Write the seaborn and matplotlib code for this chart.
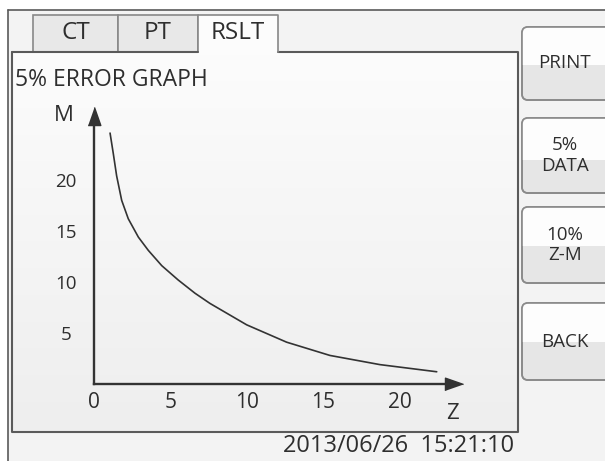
import numpy as np
import matplotlib
matplotlib.use("Agg")
import matplotlib.pyplot as plt
import seaborn as sns
from matplotlib.patches import Rectangle, FancyBboxPatch

# data
z_vals = [1.05, 1.26, 1.48, 1.81, 2.24, 2.9, 3.55, 4.43, 5.5, 6.6, 7.58, 9.98, 12.59, 15.42, 18.69, 22.4]
m_vals = [24.6, 22.6, 20.4, 18.0, 16.2, 14.4, 13.1, 11.6, 10.2, 8.9, 7.9, 5.8, 4.1, 2.8, 1.9, 1.2]
x_ticks = [0, 5, 10, 15, 20]
y_ticks = [5, 10, 15, 20]
tabs = ["CT", "PT", "RSLT"]
buttons = ["PRINT", "5%\nDATA", "10%\nZ-M", "BACK"]
title = "5% ERROR GRAPH"
stamp = "2013/06/26  15:21:10"

sns.set_style("white")
plt.rcParams["font.family"] = ["Open Sans", "DejaVu Sans"]

W, H = 605, 461
fig = plt.figure(figsize=(W / 100, H / 100), dpi=100, facecolor="#f3f3f3")
txt = "#2e2e2e"
edge = "#5a5a5a"

# background layer in pixel coords
bg = fig.add_axes([0, 0, 1, 1])
bg.add_patch(Rectangle((0, 0), W, 10, fc="white", ec="none"))
bg.add_patch(Rectangle((0, 0), 8, H, fc="white", ec="none"))
# panel with soft gradient
grad = np.linspace(0, 1, 100).reshape(-1, 1)
cm = matplotlib.colors.LinearSegmentedColormap.from_list("g", ["#fcfcfc", "#eeeeee"])
bg.imshow(grad, extent=(12, 518, 432, 52), cmap=cm, aspect="auto", zorder=1)
bg.set_xlim(0, W)
bg.set_ylim(H, 0)
bg.axis("off")
# frame lines
bg.plot([8, 8], [10, H], color=edge, lw=1.2, zorder=3)
bg.plot([8, W], [10, 10], color=edge, lw=1.2, zorder=3)
bg.plot([12, 12, 518, 518, 278], [52, 432, 432, 52, 52], color=edge, lw=1.5, zorder=3)
bg.plot([12, 33], [52, 52], color=edge, lw=1.5, zorder=3)
# tabs
tab_x = [33, 118, 198, 278]
for i, t in enumerate(tabs):
    x0, x1 = tab_x[i], tab_x[i + 1]
    if t == "RSLT":
        bg.add_patch(Rectangle((x0, 15), x1 - x0, 38, fc="#fcfcfc", ec="none", zorder=2))
        bg.plot([x0, x0, x1, x1], [52, 15, 15, 52], color="#888888", lw=1.2, zorder=3)
    else:
        bg.add_patch(Rectangle((x0, 15), x1 - x0, 37, fc="#e8e8e8", ec="#888888", lw=1.2, zorder=2))
    bg.text((x0 + x1) / 2, 33, t, ha="center", va="center", fontsize=17.5, color=txt, zorder=4)
bg.plot([33, 198], [52, 52], color=edge, lw=1.5, zorder=3)
bg.text(15, 80, title, ha="left", va="center", fontsize=16.5, color=txt, zorder=4)

# side buttons
btn_y = [(27, 100, 65), (118, 193, 160), (207, 283, 246), (303, 380, 342)]
for b, (y0, y1, ym) in zip(buttons, btn_y):
    p = FancyBboxPatch((522, y0), 100, y1 - y0, boxstyle="round,pad=0,rounding_size=6",
                       fc="#e6e6e6", ec="#8a8a8a", lw=1.2, zorder=2)
    bg.add_patch(p)
    top = Rectangle((522, y0), 100, ym - y0, fc="#fdfdfd", ec="none", zorder=2.5)
    bg.add_patch(top)
    top.set_clip_path(p)
    bg.add_patch(FancyBboxPatch((522, y0), 100, y1 - y0, boxstyle="round,pad=0,rounding_size=6",
                                fc="none", ec="#8a8a8a", lw=1.2, zorder=3))
    bg.text(565, (y0 + y1) / 2, b, ha="center", va="center", fontsize=13.5, color=txt,
            linespacing=1.2, zorder=4)

bg.text(399, 446, stamp, ha="center", va="center", fontsize=17, color=txt, zorder=4)

# chart axes: pixel box x 40..480, y 100..430
ax = fig.add_axes([40 / W, (H - 430) / H, 440 / W, 330 / H], facecolor="none")
sns.lineplot(x=z_vals, y=m_vals, ax=ax, color="#333333", lw=1.2, estimator=None, sort=False)
ax.set_xlim((40 - 94) / 15.3, (480 - 94) / 15.3)
ax.set_ylim((384 - 430) / 10.2, (384 - 100) / 10.2)

for s in ["top", "right"]:
    ax.spines[s].set_visible(False)
ax.spines["left"].set_position(("data", 0))
ax.spines["bottom"].set_position(("data", 0))
ax.spines["left"].set_bounds(0, 26.0)
ax.spines["bottom"].set_bounds(0, 23.3)
for s in ["left", "bottom"]:
    ax.spines[s].set_color("#333333")
    ax.spines[s].set_linewidth(1.7)

head_up = [(-0.7, -1), (0.7, -1), (0, 1)]
head_right = [(-1, -0.7), (-1, 0.7), (1, 0)]
ax.plot([0], [26.28], marker=head_up, ms=13, color="#333333", clip_on=False)
ax.plot([23.5], [0], marker=head_right, ms=13, color="#333333", clip_on=False)

ax.set_xticks(x_ticks, [str(v) for v in x_ticks])
ax.set_yticks(y_ticks, [str(v) for v in y_ticks])
ax.tick_params(axis="both", length=0, labelcolor=txt)
ax.tick_params(axis="x", pad=6, labelsize=15)
ax.tick_params(axis="y", pad=20, labelsize=13.5)
for lbl in ax.get_yticklabels():
    lbl.set_ha("center")
ax.set_xlabel("")
ax.set_ylabel("")
ax.text(-2.0, 26.3, "M", ha="center", va="center", fontsize=16, color=txt)
ax.text(23.4, -2.85, "Z", ha="center", va="center", fontsize=16, color=txt)

fig.savefig("out.png", dpi=100, facecolor=fig.get_facecolor())
